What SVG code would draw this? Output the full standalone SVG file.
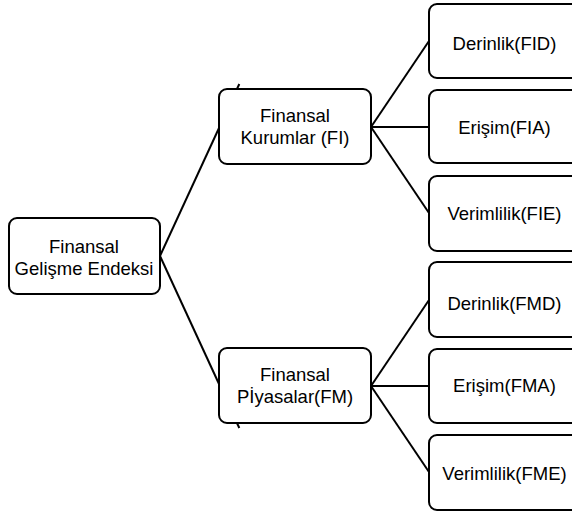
<svg xmlns="http://www.w3.org/2000/svg" width="572" height="515" viewBox="0 0 572 515">
<style>
.box{fill:#fff;stroke:#000;stroke-width:2}
.ln{stroke:#000;stroke-width:2;fill:none}
text{font-family:"Liberation Sans",Arial,sans-serif;font-size:18.5px;fill:#000;text-anchor:middle}
</style>
<rect width="572" height="515" fill="#fff"/>
<g id="connectors">
<line class="ln" x1="160" y1="256" x2="239.3" y2="84"/>
<line class="ln" x1="160" y1="256" x2="239.3" y2="428"/>
<line class="ln" x1="371" y1="127" x2="429" y2="41"/>
<line class="ln" x1="371" y1="127" x2="429" y2="127"/>
<line class="ln" x1="371" y1="127" x2="429" y2="213"/>
<line class="ln" x1="371" y1="386" x2="429" y2="300"/>
<line class="ln" x1="371" y1="386" x2="429" y2="386"/>
<line class="ln" x1="371" y1="386" x2="429" y2="472"/>
</g>
<g id="root">
<rect class="box" x="9" y="218" width="151" height="76" rx="8"/>
<text x="84" y="253">Finansal</text>
<text x="84" y="275">Gelişme Endeksi</text>
</g>
<g id="fi">
<rect class="box" x="219" y="89" width="152" height="75" rx="8"/>
<text x="295" y="122">Finansal</text>
<text x="295" y="144">Kurumlar (FI)</text>
</g>
<g id="fm">
<rect class="box" x="219" y="348" width="152" height="75" rx="8"/>
<text x="295" y="381">Finansal</text>
<text x="295" y="403">Pİyasalar(FM)</text>
</g>
<g id="fid">
<rect class="box" x="429" y="4" width="160" height="74" rx="8"/>
<text x="504.5" y="50">Derinlik(FID)</text>
</g>
<g id="fia">
<rect class="box" x="429" y="90" width="160" height="73" rx="8"/>
<text x="504.5" y="134">Erişim(FIA)</text>
</g>
<g id="fie">
<rect class="box" x="429" y="176" width="160" height="75" rx="8"/>
<text x="504.5" y="220">Verimlilik(FIE)</text>
</g>
<g id="fmd">
<rect class="box" x="429" y="262" width="160" height="75" rx="8"/>
<text x="504.5" y="310">Derinlik(FMD)</text>
</g>
<g id="fma">
<rect class="box" x="429" y="349" width="160" height="74" rx="8"/>
<text x="504.5" y="392">Erişim(FMA)</text>
</g>
<g id="fme">
<rect class="box" x="429" y="435" width="160" height="75" rx="8"/>
<text x="504.5" y="480">Verimlilik(FME)</text>
</g>
</svg>
